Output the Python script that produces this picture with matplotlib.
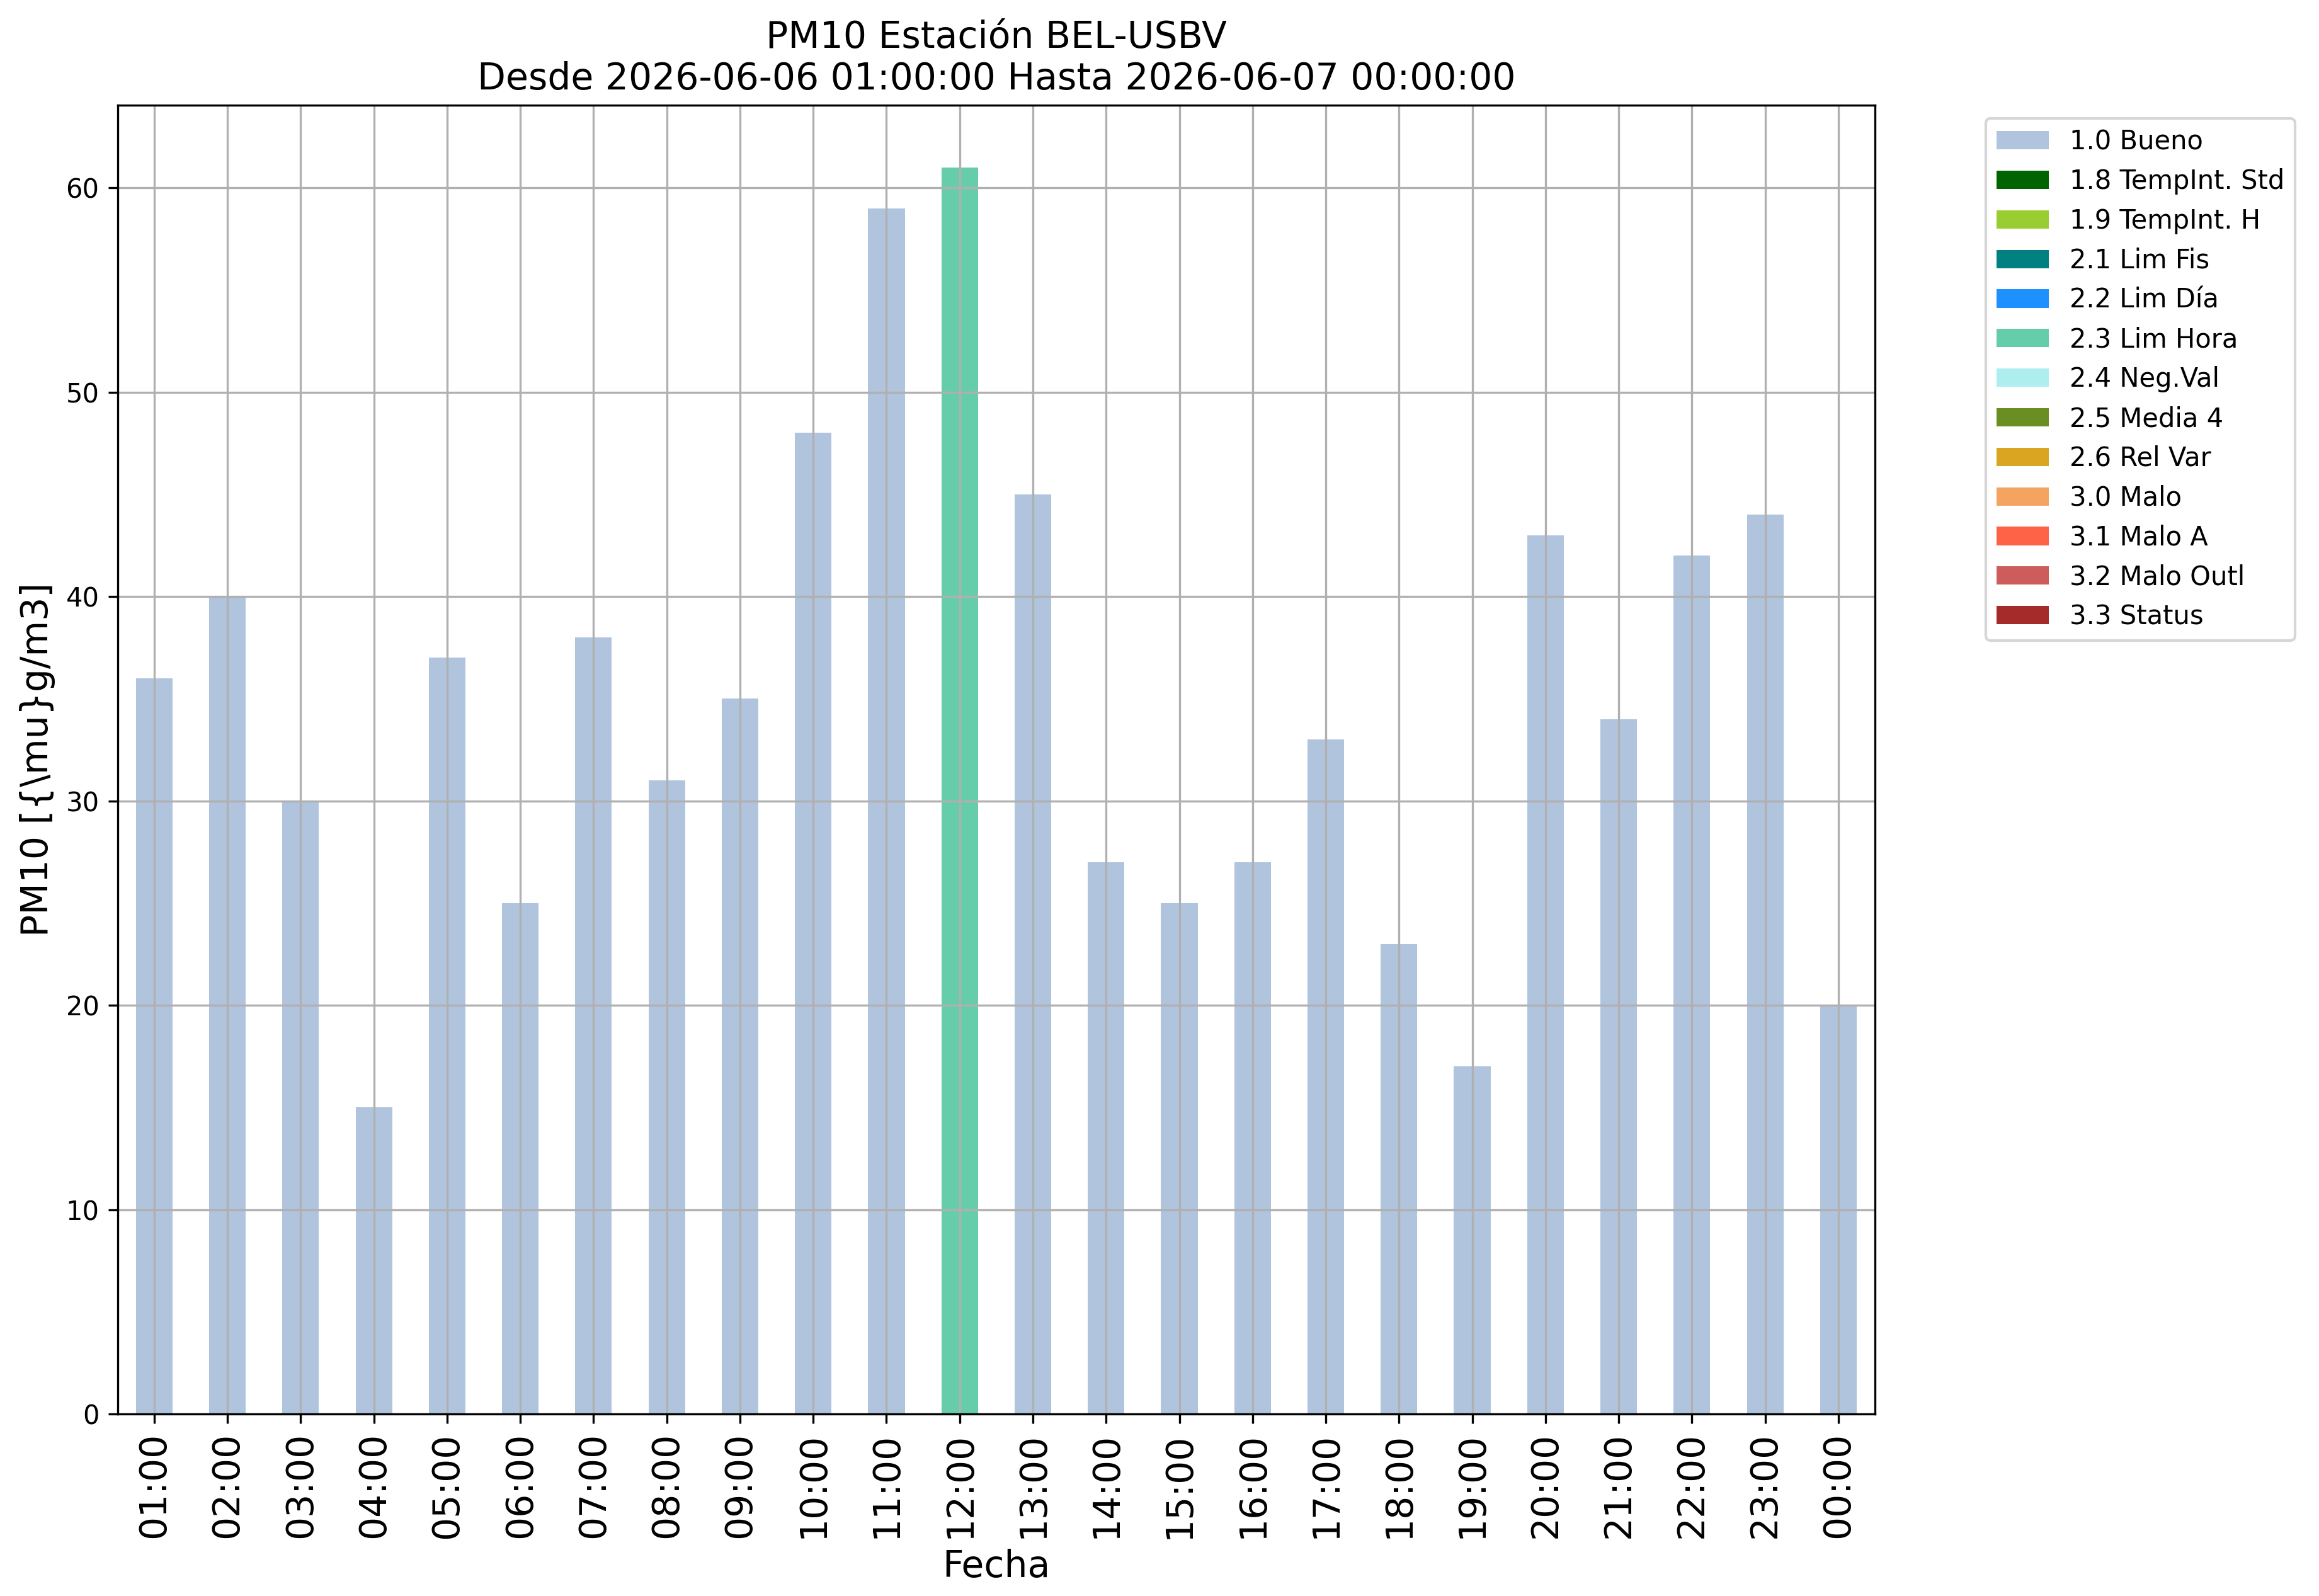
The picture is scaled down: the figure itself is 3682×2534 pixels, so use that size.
import numpy as np
import matplotlib
matplotlib.use("Agg")
import matplotlib.pyplot as plt

hours = ["01:00", "02:00", "03:00", "04:00", "05:00", "06:00", "07:00", "08:00",
         "09:00", "10:00", "11:00", "12:00", "13:00", "14:00", "15:00", "16:00",
         "17:00", "18:00", "19:00", "20:00", "21:00", "22:00", "23:00", "00:00"]
pm10 = [36, 40, 30, 15, 37, 25, 38, 31, 35, 48, 59, 61,
        45, 27, 25, 27, 33, 23, 17, 43, 34, 42, 44, 20]
flags = ["1.0", "1.0", "1.0", "1.0", "1.0", "1.0", "1.0", "1.0", "1.0", "1.0", "1.0", "2.3",
         "1.0", "1.0", "1.0", "1.0", "1.0", "1.0", "1.0", "1.0", "1.0", "1.0", "1.0", "1.0"]

flag_codes = ["1.0", "1.8", "1.9", "2.1", "2.2", "2.3", "2.4", "2.5", "2.6", "3.0", "3.1", "3.2", "3.3"]
flag_names = ["1.0 Bueno", "1.8 TempInt. Std", "1.9 TempInt. H", "2.1 Lim Fis", "2.2 Lim Día",
              "2.3 Lim Hora", "2.4 Neg.Val", "2.5 Media 4", "2.6 Rel Var", "3.0 Malo",
              "3.1 Malo A", "3.2 Malo Outl", "3.3 Status"]
flag_colors = ["lightsteelblue", "darkgreen", "yellowgreen", "teal", "dodgerblue",
               "mediumaquamarine", "paleturquoise", "olivedrab", "goldenrod", "sandybrown",
               "tomato", "indianred", "brown"]

fig = plt.figure(figsize=(3682 / 300, 2534 / 300), dpi=300)
ax = fig.add_axes([186.7 / 3682, (2534 - 2245) / 2534, 2790.3 / 3682, (2245 - 166.7) / 2534])

x = np.arange(len(hours))
vals = np.array(pm10, dtype=float)
fl = np.array(flags)
bottom = np.zeros(len(hours))
for code, name, col in zip(flag_codes, flag_names, flag_colors):
    h = np.where(fl == code, vals, 0.0)
    ax.bar(x, h, width=0.5, bottom=bottom, color=col, label=name)
    bottom += h

ax.set_xlim(-0.5, len(hours) - 0.5)
ax.set_ylim(0, max(pm10) * 1.05)
ax.set_xticks(x)
ax.set_xticklabels(hours, rotation=90, fontsize=14)
ax.tick_params(axis="y", labelsize=10)
ax.grid(True)
ax.set_xlabel("Fecha", fontsize=14)
ax.set_ylabel("PM10 [{\\mu}g/m3]", fontsize=14)
ax.set_title("PM10 Estación BEL-USBV\nDesde 2026-06-06 01:00:00 Hasta 2026-06-07 00:00:00", fontsize=14)
ax.legend(loc="upper left", bbox_to_anchor=(1.0556, 1), fontsize=10)

fig.savefig("out.png", dpi=300)
